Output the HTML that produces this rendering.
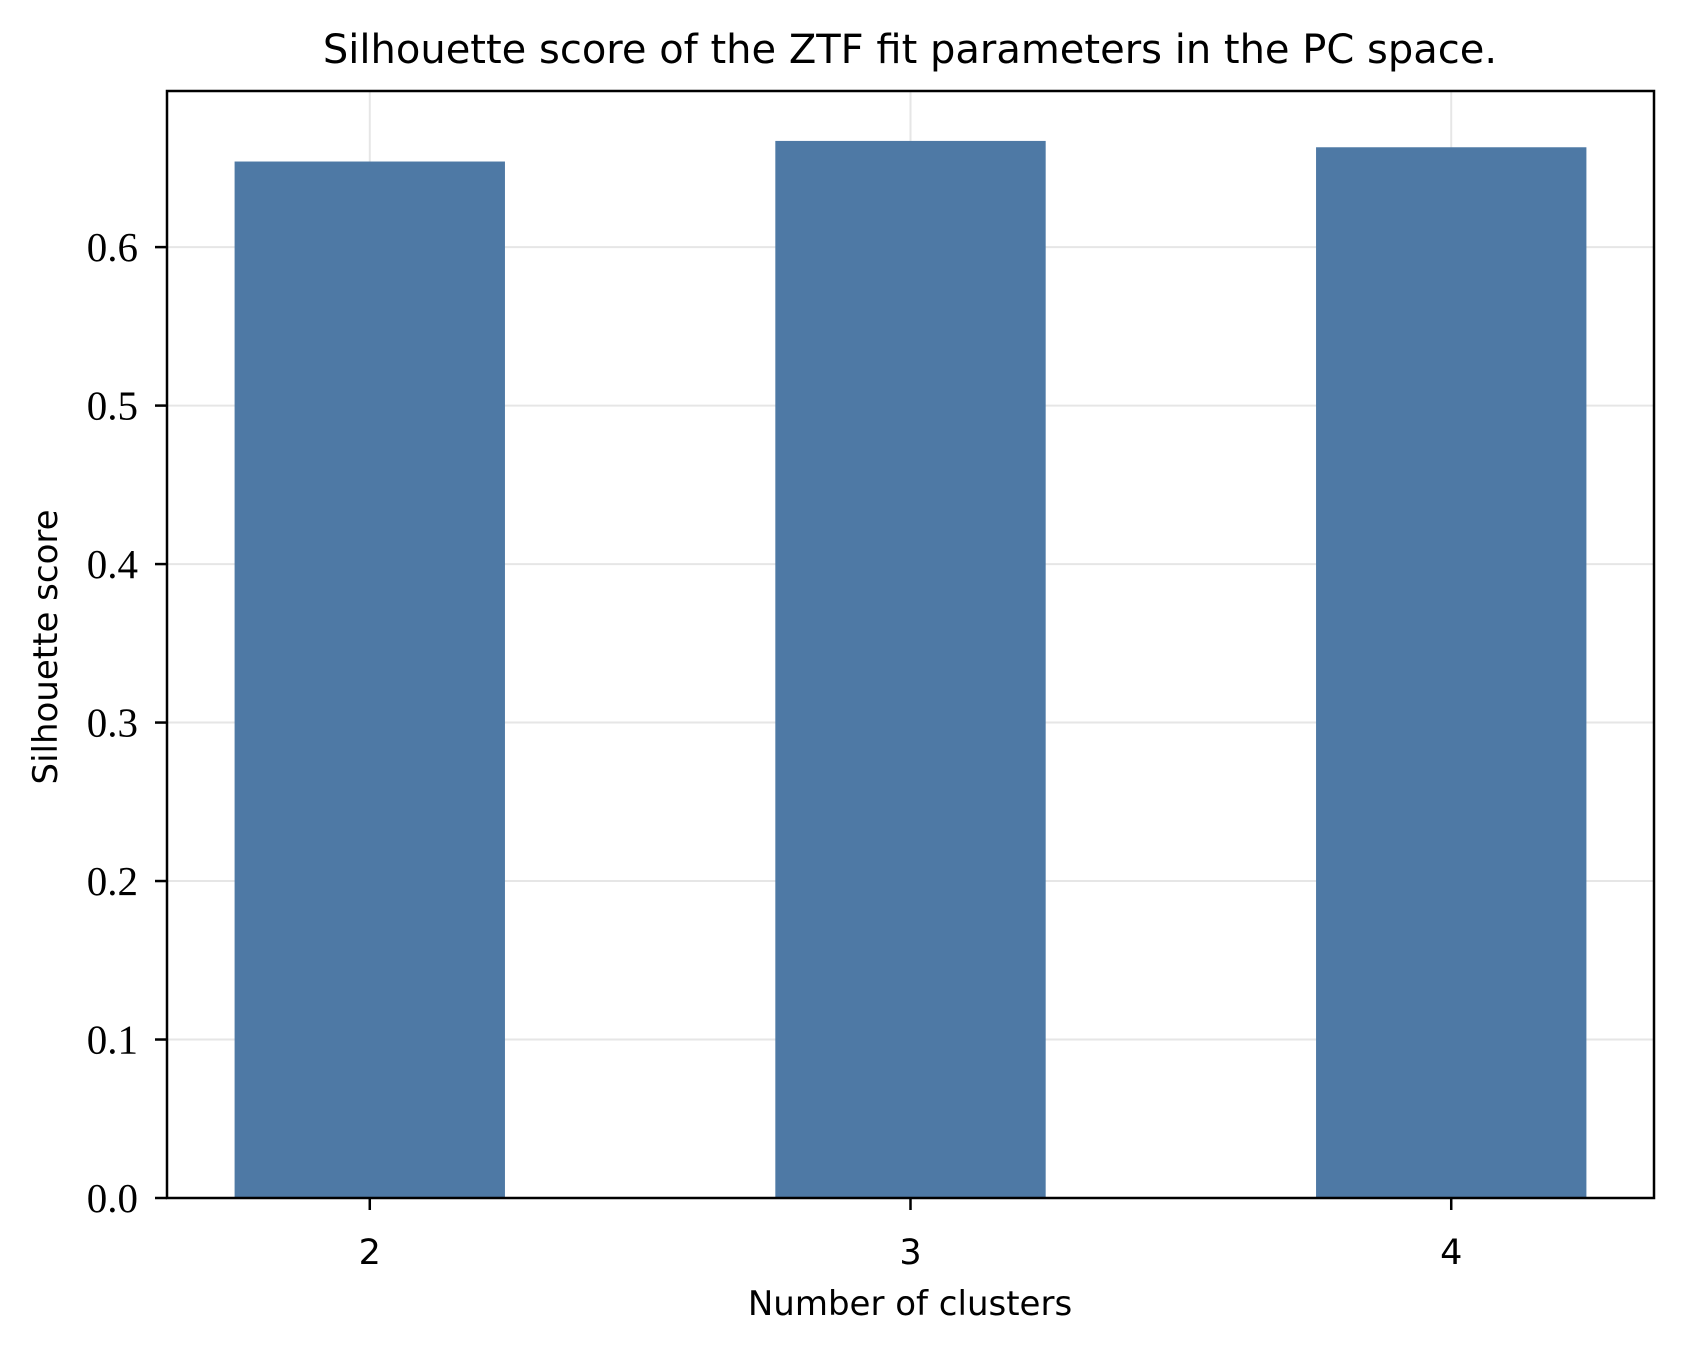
<!DOCTYPE html>
<html><head><meta charset="utf-8"><style>
body{margin:0;background:#fff;}
svg{display:block}
.serif{font-family:"Liberation Serif","DejaVu Serif",serif;}
.sans{font-family:"DejaVu Sans","Liberation Sans",sans-serif;}
</style></head><body>
<svg id="chart" width="1683" height="1348" viewBox="0 0 1683 1348">
<text x="910" y="63" text-anchor="middle" class="sans" font-size="40">Silhouette score of the ZTF fit parameters in the PC space.</text>
<text x="910" y="1315" text-anchor="middle" class="sans" font-size="34">Number of clusters</text>
<text transform="translate(57,647) rotate(-90)" text-anchor="middle" class="sans" font-size="34">Silhouette score</text>
<g id="grid"></g><g id="bars"></g><g id="axes"></g>
</svg>
<script>
const categories = ["2","3","4"];
const scores = [0.654, 0.667, 0.663];
const yTicks = [0.0, 0.1, 0.2, 0.3, 0.4, 0.5, 0.6];
const yTickLabels = ["0.0","0.1","0.2","0.3","0.4","0.5","0.6"];

const L=167,R=1654,T=91,B=1198;
const xMin=-0.375,xMax=2.375,yMin=0,yMax=0.6985;
const xs=i=>L+(i-xMin)/(xMax-xMin)*(R-L);
const ys=v=>B-(v-yMin)/(yMax-yMin)*(B-T);
const NS="http://www.w3.org/2000/svg";
function mk(tag,attrs,parent){const e=document.createElementNS(NS,tag);for(const k in attrs)e.setAttribute(k,attrs[k]);parent.appendChild(e);return e;}
const grid=document.getElementById('grid'),bars=document.getElementById('bars'),axes=document.getElementById('axes');
yTicks.forEach((v,i)=>{
  const y=ys(v);
  const g=mk('line',{x1:L,x2:R,y1:y,y2:y,stroke:'#e6e6e6','stroke-width':2},grid);
  
  
  const t=mk('line',{x1:L-12,x2:L,y1:y,y2:y,stroke:'#000','stroke-width':2.5},axes);
  
  
  const lb=mk('text',{x:138,y:y+14,'text-anchor':'end','font-size':41,class:'serif'},axes);
  lb.textContent=yTickLabels[i];
  
  
});
categories.forEach((c,i)=>{
  const x=xs(i);
  const g=mk('line',{x1:x,x2:x,y1:T,y2:B,stroke:'#e6e6e6','stroke-width':2},grid);
  
  
  const b=mk('rect',{x:xs(i-0.25),y:ys(scores[i]),width:xs(i+0.25)-xs(i-0.25),height:B-ys(scores[i]),fill:'#4e79a5'},bars);
  
  
  const t=mk('line',{x1:x,x2:x,y1:B,y2:B+12,stroke:'#000','stroke-width':2.5},axes);
  
  
  const lb=mk('text',{x:x,y:B+66,'text-anchor':'middle','font-size':35,class:'sans'},axes);
  lb.textContent=c;
  
  
});
const fr=mk('rect',{x:L,y:T,width:R-L,height:B-T,fill:'none',stroke:'#000','stroke-width':2.5},axes);


</script>
</body></html>
